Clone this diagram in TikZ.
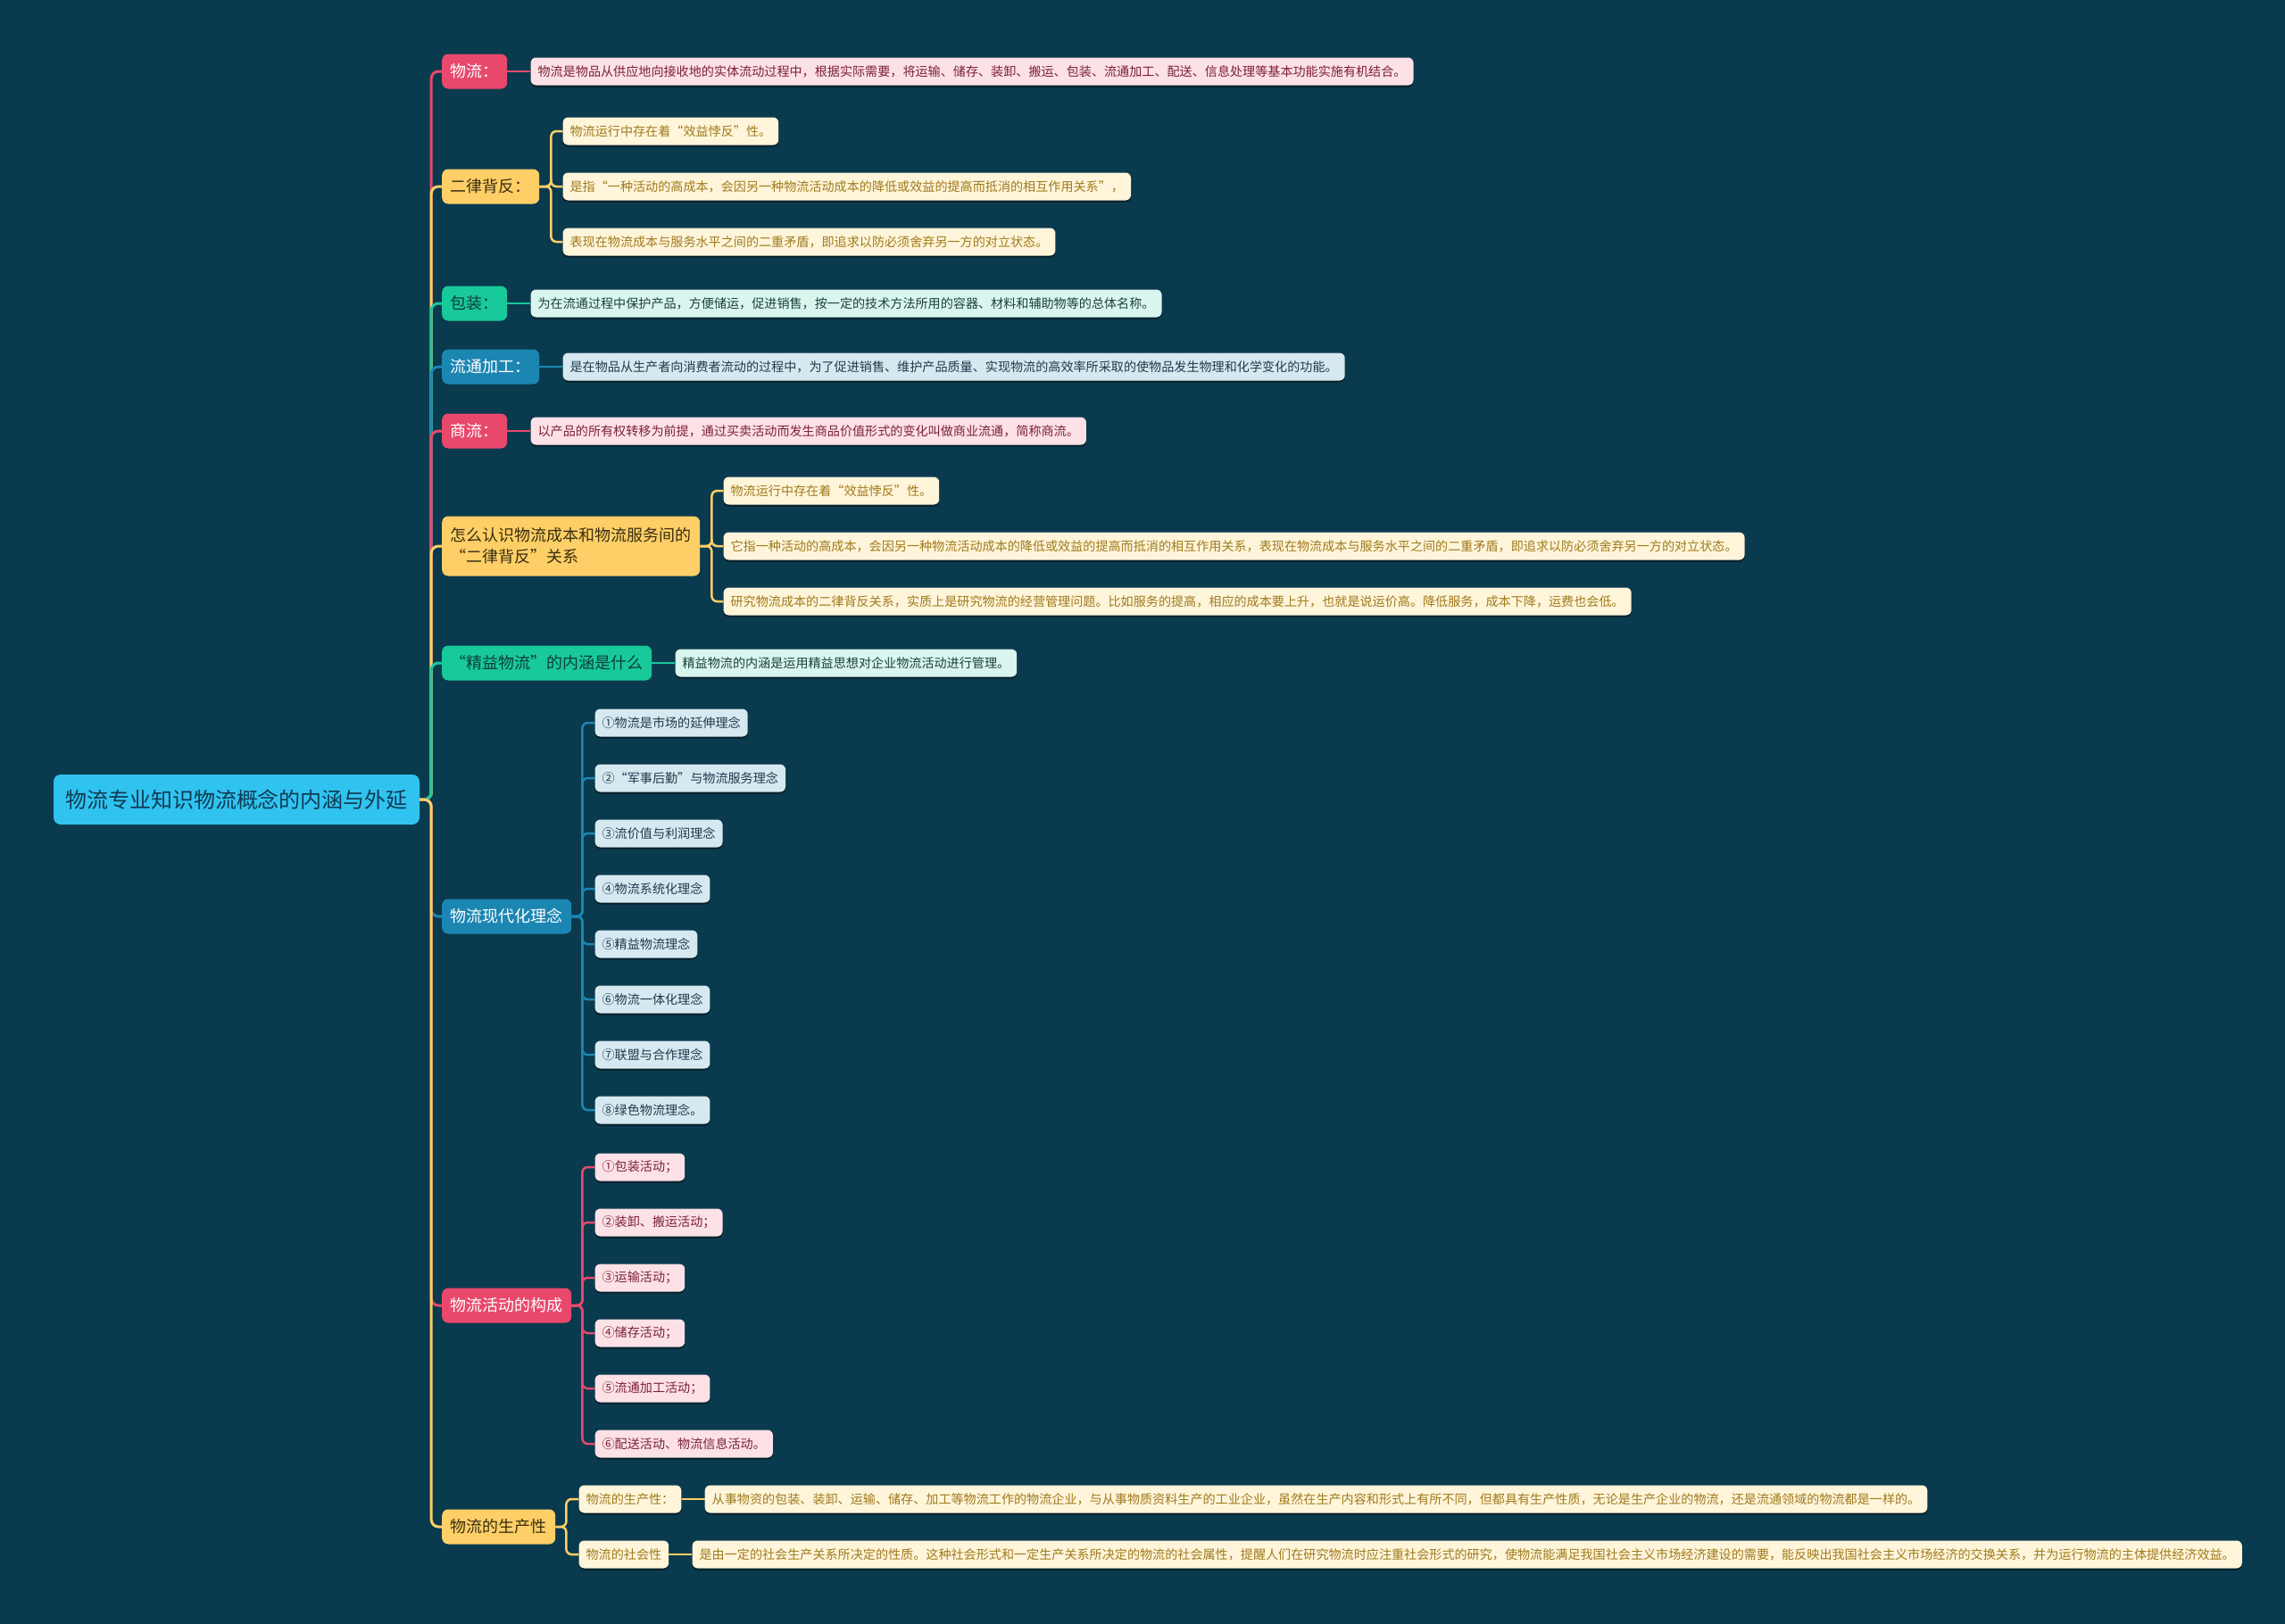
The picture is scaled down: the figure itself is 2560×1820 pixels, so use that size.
\documentclass[tikz,border=0pt]{standalone}
\usepackage{fontspec}
\setmainfont{Noto Sans CJK SC}
\usetikzlibrary{shadows}
\definecolor{bgc}{HTML}{0A3A4D}
\definecolor{pk}{HTML}{E9486D}
\definecolor{pkl}{HTML}{FCE1E7}
\definecolor{pkt}{HTML}{7B2236}
\definecolor{yl}{HTML}{FDCF66}
\definecolor{yll}{HTML}{FFF5DB}
\definecolor{ylt}{HTML}{A07A1C}
\definecolor{ylot}{HTML}{3A2E10}
\definecolor{gn}{HTML}{18C99B}
\definecolor{gnl}{HTML}{D8F6EE}
\definecolor{gnt}{HTML}{1E3F3C}
\definecolor{gnot}{HTML}{0E3D38}
\definecolor{bl}{HTML}{1C86B3}
\definecolor{bll}{HTML}{D6E9F1}
\definecolor{blt}{HTML}{1E3A4B}
\definecolor{rootc}{HTML}{30C3F0}
\definecolor{roott}{HTML}{0F3A52}
\pgfdeclarelayer{back}
\pgfsetlayers{back,main}
\tikzset{
  rootn/.style={fill=rootc, text=roott, rounded corners=8pt, minimum height=56pt,
    inner xsep=13pt, inner ysep=0pt, font=\fontsize{24}{28}\selectfont},
  lone/.style={rounded corners=7pt, minimum height=39pt, inner xsep=9.5pt,
    inner ysep=0pt, anchor=west, font=\fontsize{18}{22}\selectfont},
  leaf/.style={rounded corners=6pt, minimum height=31pt, inner xsep=8pt,
    inner ysep=0pt, anchor=west, font=\fontsize{14.1}{17}\selectfont,
    drop shadow={shadow xshift=0pt, shadow yshift=-2pt, fill=black, opacity=0.45}},
  pkone/.style={lone, fill=pk, text=white},
  ylone/.style={lone, fill=yl, text=ylot},
  gnone/.style={lone, fill=gn, text=gnot},
  blone/.style={lone, fill=bl, text=white},
  pkleaf/.style={leaf, fill=pkl, text=pkt, xshift=26pt},
  ylleaf/.style={leaf, fill=yll, text=ylt, xshift=26pt},
  gnleaf/.style={leaf, fill=gnl, text=gnt, xshift=26pt},
  blleaf/.style={leaf, fill=bll, text=blt, xshift=26pt},
  trunk/.style={line width=3pt, rounded corners=8pt},
  branch/.style={line width=2.5pt, rounded corners=6pt},
}
\begin{document}
\begin{tikzpicture}[x=1pt,y=-1pt]
\useasboundingbox (0,0) rectangle (2560,1820);
% root
\node[rootn] (root) at (265,896) {物流专业知识物流概念的内涵与外延};
% level 1
\node[pkone] (n1) at (495,80) {物流：};
\node[ylone] (n2) at (495,209) {二律背反：};
\node[gnone] (n3) at (495,340) {包装：};
\node[blone] (n4) at (495,411) {流通加工：};
\node[pkone] (n5) at (495,483) {商流：};
\node[ylone, minimum height=67pt, align=left, font=\fontsize{18}{24}\selectfont] (n6) at (495,612) {怎么认识物流成本和物流服务间的\\“二律背反”关系};
\node[gnone] (n7) at (495,743) {“精益物流”的内涵是什么};
\node[blone] (n8) at (495,1027) {物流现代化理念};
\node[pkone] (n9) at (495,1463) {物流活动的构成};
\node[ylone] (n10) at (495,1711) {物流的生产性};
% leaves
\node[pkleaf] (a1) at (n1.east |- 0,80) {物流是物品从供应地向接收地的实体流动过程中，根据实际需要，将运输、储存、装卸、搬运、包装、流通加工、配送、信息处理等基本功能实施有机结合。};
\node[ylleaf] (b1) at (n2.east |- 0,147) {物流运行中存在着“效益悖反”性。};
\node[ylleaf] (b2) at (n2.east |- 0,209) {是指“一种活动的高成本，会因另一种物流活动成本的降低或效益的提高而抵消的相互作用关系”，};
\node[ylleaf] (b3) at (n2.east |- 0,271) {表现在物流成本与服务水平之间的二重矛盾，即追求以防必须舍弃另一方的对立状态。};
\node[gnleaf] (c1) at (n3.east |- 0,340) {为在流通过程中保护产品，方便储运，促进销售，按一定的技术方法所用的容器、材料和辅助物等的总体名称。};
\node[blleaf] (d1) at (n4.east |- 0,411) {是在物品从生产者向消费者流动的过程中，为了促进销售、维护产品质量、实现物流的高效率所采取的使物品发生物理和化学变化的功能。};
\node[pkleaf] (e1) at (n5.east |- 0,483) {以产品的所有权转移为前提，通过买卖活动而发生商品价值形式的变化叫做商业流通，简称商流。};
\node[ylleaf] (f1) at (n6.east |- 0,550) {物流运行中存在着“效益悖反”性。};
\node[ylleaf] (f2) at (n6.east |- 0,612) {它指一种活动的高成本，会因另一种物流活动成本的降低或效益的提高而抵消的相互作用关系，表现在物流成本与服务水平之间的二重矛盾，即追求以防必须舍弃另一方的对立状态。};
\node[ylleaf] (f3) at (n6.east |- 0,674) {研究物流成本的二律背反关系，实质上是研究物流的经营管理问题。比如服务的提高，相应的成本要上升，也就是说运价高。降低服务，成本下降，运费也会低。};
\node[gnleaf] (g1) at (n7.east |- 0,743) {精益物流的内涵是运用精益思想对企业物流活动进行管理。};
\node[blleaf] (h1) at (n8.east |- 0,810) {①物流是市场的延伸理念};
\node[blleaf] (h2) at (n8.east |- 0,872) {②“军事后勤”与物流服务理念};
\node[blleaf] (h3) at (n8.east |- 0,934) {③流价值与利润理念};
\node[blleaf] (h4) at (n8.east |- 0,996) {④物流系统化理念};
\node[blleaf] (h5) at (n8.east |- 0,1058) {⑤精益物流理念};
\node[blleaf] (h6) at (n8.east |- 0,1120) {⑥物流一体化理念};
\node[blleaf] (h7) at (n8.east |- 0,1182) {⑦联盟与合作理念};
\node[blleaf] (h8) at (n8.east |- 0,1244) {⑧绿色物流理念。};
\node[pkleaf] (i1) at (n9.east |- 0,1308) {①包装活动；};
\node[pkleaf] (i2) at (n9.east |- 0,1370) {②装卸、搬运活动；};
\node[pkleaf] (i3) at (n9.east |- 0,1432) {③运输活动；};
\node[pkleaf] (i4) at (n9.east |- 0,1494) {④储存活动；};
\node[pkleaf] (i5) at (n9.east |- 0,1556) {⑤流通加工活动；};
\node[pkleaf] (i6) at (n9.east |- 0,1618) {⑥配送活动、物流信息活动。};
\node[ylleaf] (j1) at (n10.east |- 0,1680) {物流的生产性：};
\node[ylleaf] (j2) at (n10.east |- 0,1742) {物流的社会性};
\node[ylleaf] (k1) at (j1.east |- 0,1680) {从事物资的包装、装卸、运输、储存、加工等物流工作的物流企业，与从事物质资料生产的工业企业，虽然在生产内容和形式上有所不同，但都具有生产性质，无论是生产企业的物流，还是流通领域的物流都是一样的。};
\node[ylleaf] (k2) at (j2.east |- 0,1742) {是由一定的社会生产关系所决定的性质。这种社会形式和一定生产关系所决定的物流的社会属性，提醒人们在研究物流时应注重社会形式的研究，使物流能满足我国社会主义市场经济建设的需要，能反映出我国社会主义市场经济的交换关系，并为运行物流的主体提供经济效益。};
% connectors
\begin{pgfonlayer}{back}
\fill[bgc] (0,0) rectangle (2560,1820);
\draw[trunk, pk] (root.east) -- ++(13,0) |- (n1.west);
\draw[trunk, yl] (root.east) -- ++(13,0) |- (n2.west);
\draw[trunk, gn] (root.east) -- ++(13,0) |- (n3.west);
\draw[trunk, bl] (root.east) -- ++(13,0) |- (n4.west);
\draw[trunk, pk] (root.east) -- ++(13,0) |- (n5.west);
\draw[trunk, yl] (root.east) -- ++(13,0) |- (n6.west);
\draw[trunk, gn] (root.east) -- ++(13,0) |- (n7.west);
\draw[trunk, bl] (root.east) -- ++(13,0) |- (n8.west);
\draw[trunk, pk] (root.east) -- ++(13,0) |- (n9.west);
\draw[trunk, yl] (root.east) -- ++(13,0) |- (n10.west);
\draw[branch, pk] (n1.east) -- (a1.west);
\foreach \c in {b1,b2,b3} \draw[branch, yl] (n2.east) -- ++(13,0) |- (\c.west);
\draw[branch, gn] (n3.east) -- (c1.west);
\draw[branch, bl] (n4.east) -- (d1.west);
\draw[branch, pk] (n5.east) -- (e1.west);
\foreach \c in {f1,f2,f3} \draw[branch, yl] (n6.east) -- ++(13,0) |- (\c.west);
\draw[branch, gn] (n7.east) -- (g1.west);
\foreach \c in {h1,h2,h3,h4,h5,h6,h7,h8} \draw[branch, bl] (n8.east) -- ++(12,0) |- (\c.west);
\foreach \c in {i1,i2,i3,i4,i5,i6} \draw[branch, pk] (n9.east) -- ++(12,0) |- (\c.west);
\foreach \c in {j1,j2} \draw[branch, yl] (n10.east) -- ++(12,0) |- (\c.west);
\draw[branch, yl] (j1.east) -- (k1.west);
\draw[branch, yl] (j2.east) -- (k2.west);
\end{pgfonlayer}
\end{tikzpicture}
\end{document}
